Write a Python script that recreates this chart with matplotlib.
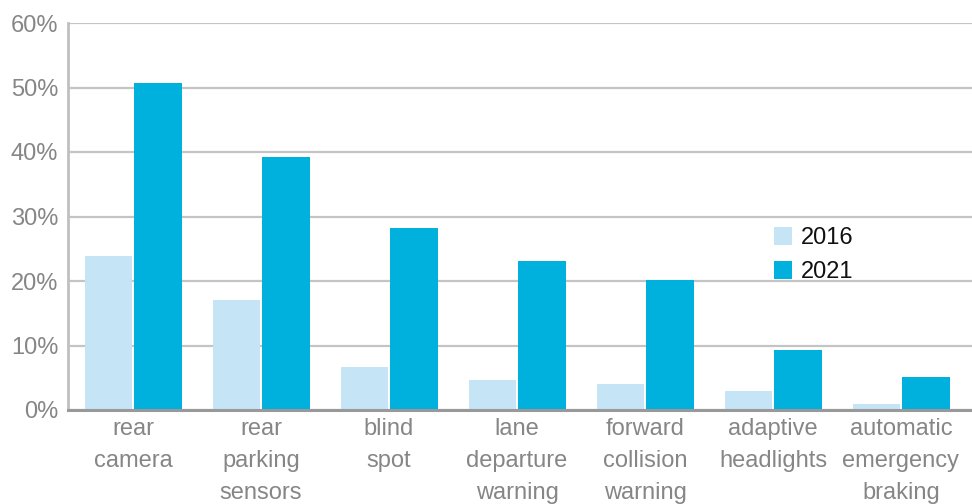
import matplotlib

matplotlib.use("Agg")
import matplotlib.pyplot as plt
import numpy as np

categories = [
    "rear\ncamera",
    "rear\nparking\nsensors",
    "blind\nspot",
    "lane\ndeparture\nwarning",
    "forward\ncollision\nwarning",
    "adaptive\nheadlights",
    "automatic\nemergency\nbraking",
]
values_2016 = [23.9, 17.0, 6.7, 4.7, 4.0, 2.9, 0.9]
values_2021 = [50.7, 39.2, 28.2, 23.1, 20.2, 9.3, 5.1]
series_labels = ["2016", "2021"]
y_ticks = [0, 10, 20, 30, 40, 50, 60]

plt.rcParams["font.family"] = ["Liberation Sans Narrow", "Liberation Sans", "DejaVu Sans"]

fig = plt.figure(figsize=(9.72, 5.04), dpi=100)
ax = fig.add_axes([68 / 972, 94 / 504, 904 / 972, 387 / 504])

x = np.arange(len(categories))
ax.bar(x - 0.193, values_2016, width=0.37, color="#c5e4f5", label=series_labels[0], zorder=3)
ax.bar(x + 0.195, values_2021, width=0.37, color="#00b0dd", label=series_labels[1], zorder=3)

ax.set_xlim(-0.508, 6.555)
ax.set_ylim(0, 60)
ax.set_yticks(y_ticks)
ax.set_yticklabels([f"{t}%" for t in y_ticks])
ax.set_xticks(x)
ax.set_xticklabels(categories, linespacing=1.58)

ax.grid(axis="y", color="#c4c4c4", linewidth=1.6, zorder=0)
ax.tick_params(axis="both", length=0, labelsize=17, colors="#868686")
ax.tick_params(axis="y", pad=7)
ax.tick_params(axis="x", pad=6)

for side in ["top", "right"]:
    ax.spines[side].set_visible(False)
ax.spines["left"].set_color("#c0c0c0")
ax.spines["left"].set_linewidth(2)
ax.spines["bottom"].set_color("#999999")
ax.spines["bottom"].set_linewidth(2.2)
ax.spines["bottom"].set_zorder(4)

leg = ax.legend(
    loc="upper left",
    bbox_to_anchor=(0.758, 0.527),
    frameon=False,
    fontsize=17,
    handlelength=0.75,
    handleheight=0.75,
    handletextpad=0.35,
    labelspacing=0.5,
)
for text in leg.get_texts():
    text.set_color("#111111")

fig.savefig("out.png", dpi=100)
